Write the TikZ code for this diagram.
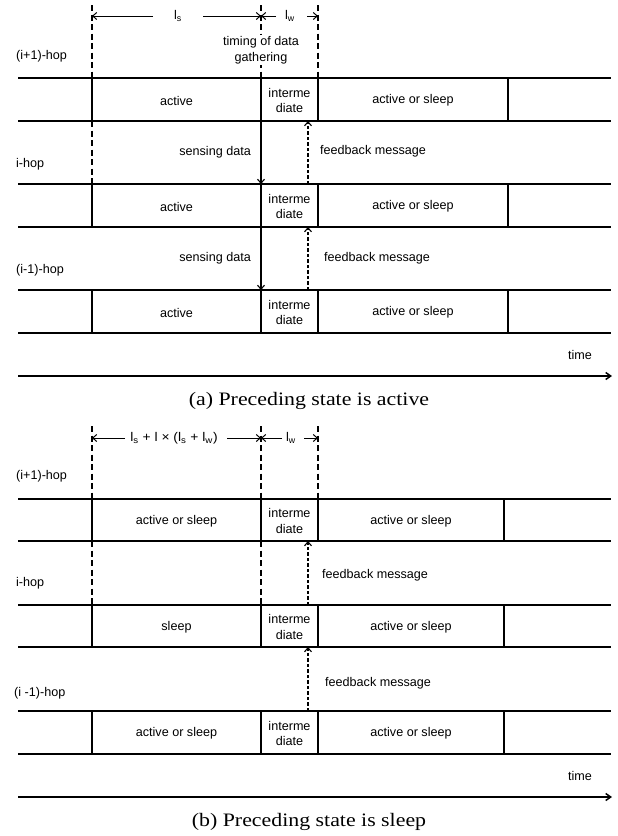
\documentclass[tikz,border=0pt]{standalone}
\usepackage{fontspec}
\setmainfont{Liberation Sans}
\newfontfamily\capfont{Liberation Serif}
\usetikzlibrary{arrows.meta}
\tikzset{
 rowline/.style={line width=1.5pt},
 boxline/.style={line width=1.3pt},
 guide/.style={dash pattern=on 6pt off 3.5pt, line width=1.1pt},
 dimarrow/.style={-{Straight Barb[length=4pt,width=7pt]}, line width=1pt},
 datarrow/.style={-{Straight Barb[length=4pt,width=7pt]}, line width=1.1pt},
 fbarrow/.style={datarrow, dash pattern=on 3.5pt off 2pt},
 lbl/.style={font=\fontsize{12.6}{15.5}\selectfont, inner sep=0pt, align=center},
 whitelbl/.style={lbl, fill=white, inner sep=1pt},
 captext/.style={font=\capfont\fontsize{19}{22}\selectfont, inner sep=0pt},
}
% #1 top, #2 bottom, #3 right edge, #4 first label, #5 name prefix, #6 last label
\newcommand\myrow[6]{%
 \draw[rowline] (18,#1) -- (611,#1);
 \draw[rowline] (18,#2) -- (611,#2);
 \draw[boxline] (92,#1) -- (92,#2) (261,#1) -- (261,#2) (318,#1) -- (318,#2) (#3,#1) -- (#3,#2);
 \node[lbl] (#5a) at (176.5,{(#1+#2)/2+1}) {#4};
 \node[lbl] (#5b) at (289.5,{(#1+#2)/2+1}) {interme\\diate};
 \node[lbl] (#5c) at ({(318+#3)/2},{(#1+#2)/2+1}) {#6};
}
\begin{document}
\begin{tikzpicture}[x=1pt,y=-1pt]
\useasboundingbox (0,0) rectangle (618,836);
% ================= (a) =================
\draw[guide] (92,5) -- (92,78);
\draw[guide] (92,121) -- (92,184);
\draw[guide] (261,5) -- (261,78);
\draw[guide] (318,5) -- (318,78);
\node[whitelbl] (timing) at (261,50) {timing of data\\gathering};
% dimension arrows
\coordinate (aL) at (92,16);
\coordinate (aM) at (261,16);
\coordinate (aR) at (318,16);
\node[lbl] (als) at (178,16) {l\textsubscript{s}};
\node[lbl] (alw) at (290,16) {l\textsubscript{w}};
\coordinate (als1) at (153,16);
\coordinate (als2) at (203,16);
\coordinate (alw1) at (276,16);
\coordinate (alw2) at (307,16);
\draw[dimarrow] (als1) -- (aL);
\draw[dimarrow] (als2) -- (aM);
\draw[dimarrow] (alw1) -- (aM);
\draw[dimarrow] (alw2) -- (aR);
% hop labels
\node[lbl, anchor=west] (ah1) at (16,56) {(i+1)-hop};
\node[lbl, anchor=west] (ah2) at (16,164) {i-hop};
\node[lbl, anchor=west] (ah3) at (16,270) {(i-1)-hop};
% rows
\myrow{78}{121}{508}{active}{ar1}{active or sleep}
\myrow{184}{227}{508}{active}{ar2}{active or sleep}
\myrow{290}{333}{508}{active}{ar3}{active or sleep}
% transmissions
\coordinate (as1t) at (261,121);
\coordinate (as1b) at (261,184);
\coordinate (af1b) at (308,184);
\coordinate (af1t) at (308,121);
\coordinate (as2t) at (261,227);
\coordinate (as2b) at (261,290);
\coordinate (af2b) at (308,290);
\coordinate (af2t) at (308,227);
\draw[datarrow] (as1t) -- (as1b);
\draw[fbarrow] (af1b) -- (af1t);
\draw[datarrow] (as2t) -- (as2b);
\draw[fbarrow] (af2b) -- (af2t);
\node[lbl, anchor=east] (asd1) at (251,152) {sensing data};
\node[lbl, anchor=west] (afm1) at (320,151) {feedback message};
\node[lbl, anchor=east] (asd2) at (251,258) {sensing data};
\node[lbl, anchor=west] (afm2) at (324,258) {feedback message};
% time axis
\coordinate (at0) at (18,376);
\coordinate (at1) at (612,376);
\draw[rowline, -{Straight Barb[length=5pt,width=7pt]}] (at0) -- (at1);
\node[lbl] (atime) at (580,355) {time};
\node[captext] (capa) at (309,401) {\scalebox{1.15}[1]{(a) Preceding state is active}};
% ================= (b) =================
\draw[guide] (92,426) -- (92,499);
\draw[guide] (92,541) -- (92,605);
\draw[guide] (261,426) -- (261,499);
\draw[guide] (261,541) -- (261,605);
\draw[guide] (318,426) -- (318,499);
\coordinate (bL) at (92,438);
\coordinate (bM) at (261,438);
\coordinate (bR) at (318,438);
\node[lbl] (bls) at (174,438) {\scalebox{1.1}[1]{l\textsubscript{s} + l × (l\textsubscript{s} + l\textsubscript{w})}};
\node[lbl] (blw) at (291,438) {l\textsubscript{w}};
\coordinate (bls1) at (125,438);
\coordinate (bls2) at (227,438);
\coordinate (blw1) at (282,438);
\coordinate (blw2) at (304,438);
\draw[dimarrow] (bls1) -- (bL);
\draw[dimarrow] (bls2) -- (bM);
\draw[dimarrow] (blw1) -- (bM);
\draw[dimarrow] (blw2) -- (bR);
\node[lbl, anchor=west] (bh1) at (16,476) {(i+1)-hop};
\node[lbl, anchor=west] (bh2) at (16,583) {i-hop};
\node[lbl, anchor=west] (bh3) at (14,693) {(i -1)-hop};
\myrow{499}{541}{504}{active or sleep}{br1}{active or sleep}
\myrow{605}{647}{504}{sleep}{br2}{active or sleep}
\myrow{711}{754}{504}{active or sleep}{br3}{active or sleep}
\coordinate (bf1b) at (308,605);
\coordinate (bf1t) at (308,541);
\coordinate (bf2b) at (308,711);
\coordinate (bf2t) at (308,647);
\draw[fbarrow] (bf1b) -- (bf1t);
\draw[fbarrow] (bf2b) -- (bf2t);
\node[lbl, anchor=west] (bfm1) at (322,575) {feedback message};
\node[lbl, anchor=west] (bfm2) at (325,683) {feedback message};
\coordinate (bt0) at (18,797);
\coordinate (bt1) at (612,797);
\draw[rowline, -{Straight Barb[length=5pt,width=7pt]}] (bt0) -- (bt1);
\node[lbl] (btime) at (580,776) {time};
\node[captext] (capb) at (309,822) {\scalebox{1.15}[1]{(b) Preceding state is sleep}};
\end{tikzpicture}
\end{document}
